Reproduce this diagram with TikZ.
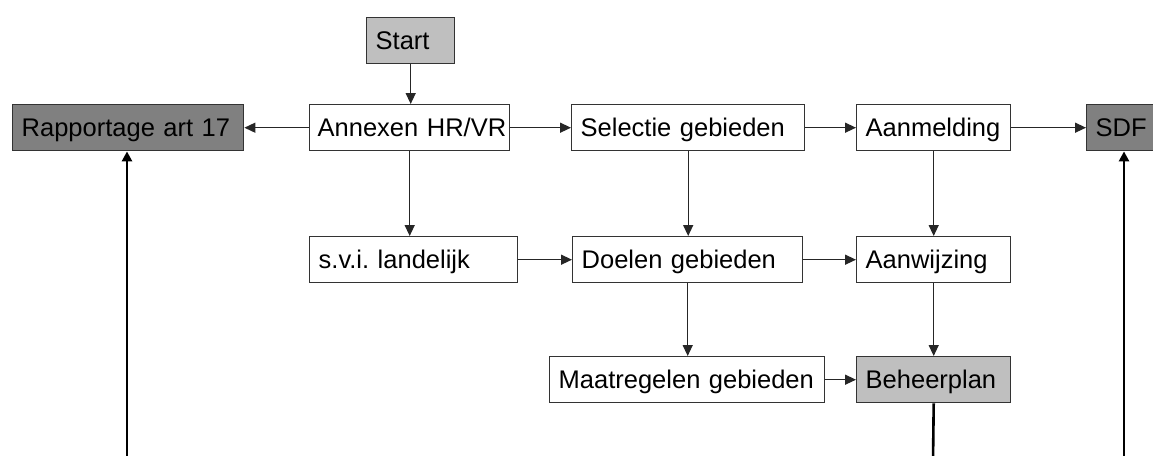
\documentclass[tikz,border=0pt]{standalone}
\usepackage{fontspec}
\setmainfont{Liberation Sans}
\usepackage{tikz}
\usetikzlibrary{calc,arrows.meta}
\frenchspacing
\tikzset{
% Three box styles for the flow chart: plain, light and dark
plain box/.style={rectangle,draw=black!80,line width=1.4pt,fill=white,anchor=north west,
  minimum height=46pt,inner xsep=9pt,inner ysep=0pt,align=left,text height=18.3pt,text depth=0pt},
light box/.style={plain box,fill=black!25},
dark box/.style={plain box,fill=black!50},
% Two arrow styles: thin between boxes, thick from below
flow arrow/.style={draw=black!85,line width=1.4pt,-{Triangle[length=11pt,width=10pt]}},
feed arrow/.style={draw=black,line width=2.6pt,-{Triangle[length=10pt,width=10pt]}}
}

\begin{document}
\begin{tikzpicture}[x=1pt,y=-1pt,font=\fontsize{25.5}{30}\selectfont]
\clip (0,0) rectangle (1153,455);
\fill[white] (0,0) rectangle (1153,455);
% The boxes
\node(start)[light box,text width=70pt] at (366,17) {Start};
\node(rap)[dark box,text width=213pt] at (12,104) {Rapportage art 17};
\node(annex)[plain box,inner xsep=8pt,text width=184pt] at (309,104) {\mbox{Annexen HR/VR}};
\node(sel)[plain box,text width=215pt] at (571,104) {Selectie gebieden};
\node(aanm)[plain box,text width=136pt] at (856,104) {Aanmelding};
\node(sdf)[dark box,text width=102pt] at (1086,104) {SDF};
\node(svi)[plain box,text width=190pt] at (309,236) {s.v.i. landelijk};
\node(doel)[plain box,text width=212pt] at (572,236) {Doelen gebieden};
\node(aanw)[plain box,text width=136pt] at (856,236) {Aanwijzing};
\node(maat)[plain box,text width=257pt] at (549,356) {Maatregelen gebieden};
\node(plan)[light box,text width=136pt] at (856,356) {Beheerplan};
% Loose ends below the picture
\coordinate(rap in) at (127,462);
\coordinate(sdf in) at (1124,462);
\coordinate(plan out) at (933,462);
% The arrows
\draw[flow arrow] (start.south) -- (start.south |- annex.north);
\draw[flow arrow] (annex) -- (rap);
\draw[flow arrow] (annex) -- (sel);
\draw[flow arrow] (sel) -- (aanm);
\draw[flow arrow] (aanm) -- (sdf);
\draw[flow arrow] (annex.south) -- (annex.south |- svi.north);
\draw[flow arrow] (sel.south) -- (sel.south |- doel.north);
\draw[flow arrow] (aanm) -- (aanw);
\draw[flow arrow] (svi) -- (doel);
\draw[flow arrow] (doel) -- (aanw);
\draw[flow arrow] (doel.south) -- (doel.south |- maat.north);
\draw[flow arrow] (aanw) -- (plan);
\draw[flow arrow] (maat) -- (plan);
\draw[feed arrow] (rap in) -- (rap in |- rap.south);
\draw[feed arrow] (sdf in) -- (sdf in |- sdf.south);
\draw[draw=black,line width=2.6pt] (plan.south) -- (plan out);
\end{tikzpicture}
\end{document}
